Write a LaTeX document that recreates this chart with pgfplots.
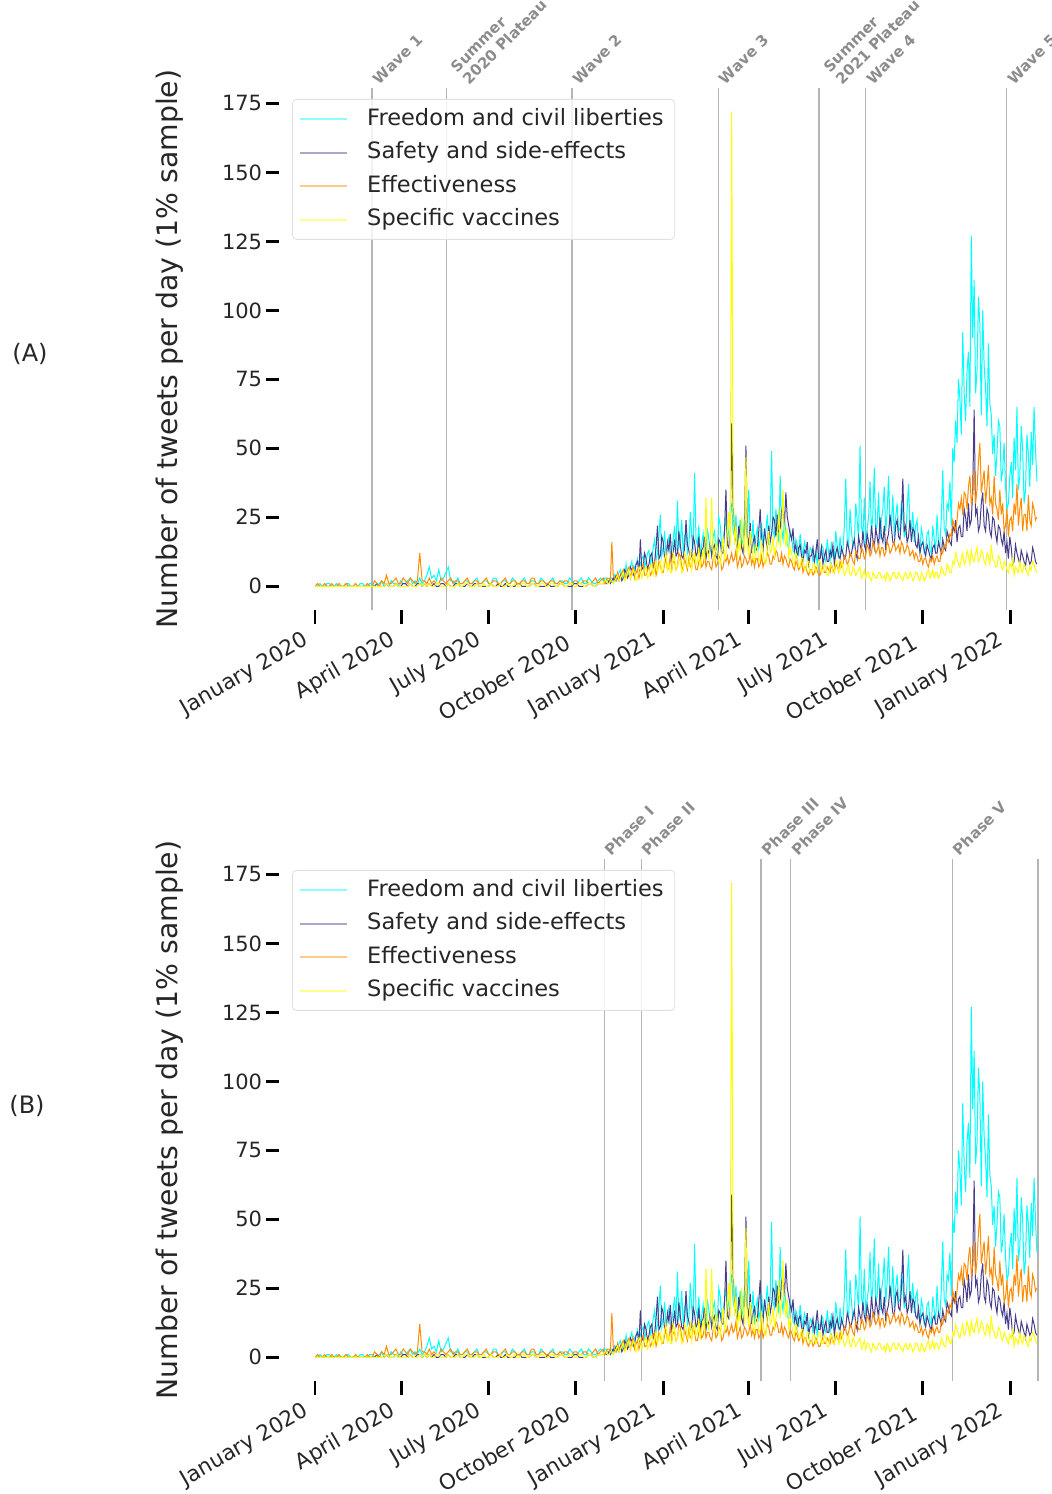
\documentclass[border=0pt]{standalone}
\usepackage{pgfplots}
\pgfplotsset{compat=1.18}
\usepackage{pgfplotstable}
\usepackage{fontspec}
\setmainfont{DejaVu Sans}
\definecolor{cC}{HTML}{00FFFF}
\definecolor{cN}{HTML}{483D8B}
\definecolor{cO}{HTML}{FF8C00}
\definecolor{cY}{HTML}{FFFF00}
\definecolor{evgray}{HTML}{B4B4B4}
\definecolor{evtext}{HTML}{8C8C8C}

\pgfplotstableread{
d C N O Y
0 0 0 0 0
2.5 0 0 1 0
5 1 0 0 0
7.5 0 0 0 0
10 0 0 1 0
12.5 1 0 0 0
15 1 0 0 0
17.5 0 0 1 0
20 0 0 0 0
22.5 1 0 0 0
25 0 0 1 0
27.5 0 0 0 0
30 0 0 0 0
32.5 1 0 1 0
35 1 0 0 0
37.5 0 0 0 0
40 0 0 0 0
42.5 0 0 1 0
45 0 0 0 0
47.5 1 0 0 0
50 1 0 0 0
52.5 0 0 0 0
55 0 0 1 0
57.5 1 0 0 0
60 1 0 0 0
62.5 0 0 2 0
65 0 1 1 0
67.5 1 0 0 0
70 2 0 2 0
72.5 0 0 1 0
75 1 1 4 1
77.5 0 0 1 0
80 2 0 1 0
82.5 1 0 2 0
85 1 1 3 1
87.5 0 0 1 0
90 2 0 1 0
92.5 1 1 3 0
95 1 1 2 0
97.5 2 0 1 0
100 3 1 3 1
102.5 1 0 2 0
105 2 0 1 0
107.5 1 1 2 0
110 3 1 12 1
112.5 1 0 2 0
115 2 1 2 1
117.5 4 0 1 0
120 7 1 3 1
122.5 3 0 1 0
125 4 1 2 0
127.5 2 0 1 1
130 6 0 1 1
132.5 2 1 3 0
135 3 1 2 0
137.5 5 0 1 0
140 7 1 2 1
142.5 2 0 3 0
145 2 0 1 0
147.5 1 1 2 0
150 3 1 2 1
152.5 1 0 1 0
155 1 0 1 0
157.5 2 0 2 1
160 2 1 3 1
162.5 1 0 1 0
165 1 0 1 0
167.5 2 1 2 0
170 3 1 2 1
172.5 1 0 1 0
175 1 0 1 0
177.5 2 0 2 1
180 2 0 3 0
182.5 1 0 1 0
185 1 1 1 1
187.5 3 0 2 0
190 3 0 2 0
192.5 1 1 1 0
195 1 0 1 1
197.5 2 0 2 0
200 2 1 3 0
202.5 1 0 1 1
205 1 0 1 0
207.5 3 0 2 0
210 2 0 2 1
212.5 1 1 1 0
215 1 1 1 0
217.5 2 0 2 1
220 3 0 2 1
222.5 1 0 1 0
225 1 0 1 0
227.5 2 1 3 1
230 2 1 3 1
232.5 1 0 1 0
235 1 0 1 0
237.5 3 0 2 1
240 2 0 2 1
242.5 1 0 1 0
245 1 1 1 0
247.5 2 0 2 1
250 3 0 2 1
252.5 1 0 1 0
255 1 0 1 0
257.5 2 1 2 1
260 2 1 1 1
262.5 1 0 2 0
265 1 0 2 0
267.5 3 0 1 1
270 2 0 1 1
272.5 1 1 2 0
275 1 1 2 0
277.5 2 0 1 1
280 3 0 1 1
282.5 1 0 2 0
285 1 0 2 0
287.5 3 1 1 1
290 2 1 1 1
292.5 1 0 2 0
295 1 0 3 0
297.5 2 1 1 1
300 3 1 2 1
303 2 1 3 1
304.5 3 2 1 2
306 3 1 2 2
307.5 2 1 3 1
309 2 2 3 1
310.5 3 1 2 2
312 3 2 16 2
313.5 2 3 4 1
315 4 2 3 2
316.5 2 4 2 3
318 3 3 5 4
319.5 5 2 3 2
321 6 4 3 3
322.5 3 2 5 4
324 5 3 6 5
325.5 4 6 3 2
327 8 5 4 3
328.5 4 3 6 5
330 6 4 7 6
331.5 7 7 3 3
333 9 6 5 4
334.5 5 4 7 6
336 7 5 3 5
337.5 8 8 5 2
339 10 9 6 3
340.5 6 5 3 7
342 8 17 5 6
343.5 10 6 7 3
345 11 7 8 5
346.5 7 12 4 6
348 9 10 4 7
349.5 12 6 6 3
351 13 8 7 4
352.5 8 11 4 7
354 10 12 5 8
355.5 14 7 8 4
357 17 9 9 6
358.5 9 14 4 9
360 12 22 6 5
361.5 18 10 9 7
363 26 11 8 9
364.5 11 18 5 5
366 14 16 5 6
367.5 20 10 8 10
369 11 9 10 12
370.5 15 16 6 6
372 18 13 7 8
373.5 12 19 11 5
375 13 10 6 5
376.5 17 12 9 12
378 22 17 9 10
379.5 13 11 6 6
381 31 12 7 7
382.5 14 20 12 10
384 16 15 11 9
385.5 24 11 7 5
387 12 10 6 6
388.5 18 14 10 12
390 20 24 8 11
391.5 12 15 6 7
393 14 13 10 8
394.5 27 10 7 13
396 18 11 7 6
397.5 13 18 11 10
399 41 16 9 12
400.5 17 11 6 8
402 15 12 6 9
403.5 22 18 9 14
405 11 9 10 7
406.5 15 13 7 10
408 19 14 8 13
409.5 12 18 11 9
411 13 10 7 32
412.5 21 13 9 12
414 17 12 9 10
415.5 13 16 7 15
417 12 11 6 32
418.5 18 14 10 11
420 20 15 11 9
421.5 13 11 7 16
423 14 10 8 14
424.5 25 17 11 9
426 22 16 10 8
427.5 14 12 6 12
429 16 12 7 18
430.5 21 20 10 10
432 25 35 9 12
433.5 17 15 11 20
435 20 14 8 27
436.5 26 22 10 14
438 30 59 12 172
439.5 20 30 9 40
441 18 20 10 15
442.5 26 17 13 22
444 14 13 7 10
445.5 19 22 9 16
447 24 18 11 13
448.5 15 14 7 25
450 17 12 8 18
451.5 25 20 11 12
453 22 51 10 47
454.5 17 18 8 15
456 35 15 9 11
457.5 19 23 12 20
459 16 12 8 16
460.5 24 16 10 10
462 12 18 7 9
463.5 18 13 10 15
465 21 14 10 14
466.5 14 20 7 9
468 17 28 8 10
469.5 23 16 11 16
471 14 13 7 12
472.5 19 21 9 9
474 20 17 9 8
475.5 26 14 12 15
477 15 22 11 20
478.5 22 16 8 12
480 49 19 8 13
481.5 20 25 11 18
483 18 24 10 11
484.5 28 18 13 14
486 22 26 12 17
487.5 16 20 9 28
489 40 21 9 14
490.5 21 27 12 20
492 17 30 8 35
493.5 24 22 11 18
495 20 34 10 15
496.5 15 25 8 21
498 14 22 7 10
499.5 20 19 10 14
501 18 17 9 12
502.5 13 21 7 9
504 12 13 6 8
505.5 17 15 9 12
507 15 10 8 11
508.5 11 14 6 7
510 19 15 7 7
511.5 14 11 9 10
513 11 9 5 10
514.5 16 13 7 6
516 14 12 7 6
517.5 10 16 5 9
519 9 8 4 9
520.5 14 11 6 5
522 13 11 6 5
523.5 9 14 4 8
525 10 9 5 8
526.5 13 12 7 5
528 8 17 6 6
529.5 12 10 4 9
531 11 10 4 9
532.5 15 14 6 5
534 14 8 7 5
535.5 10 11 5 8
537 9 13 5 7
538.5 17 9 7 4
540 12 9 6 4
541.5 9 13 5 8
543 16 11 8 8
544.5 11 15 6 5
546 10 8 5 5
547.5 20 12 8 9
549 14 14 7 9
550.5 10 11 6 5
552 18 10 9 6
553.5 12 14 7 9
555 13 12 8 7
556.5 22 10 11 4
558 39 11 10 5
559.5 17 16 8 7
561 15 14 9 8
562.5 28 11 12 4
564 20 12 11 4
565.5 14 15 9 7
567 16 17 8 6
568.5 30 12 13 4
570 24 10 12 5
571.5 17 18 10 6
573 51 15 10 7
574.5 22 13 14 3
576 18 20 13 4
577.5 32 15 10 6
579 15 13 11 3
580.5 21 19 15 5
582 25 16 14 5
583.5 38 13 11 3
585 19 22 12 2
586.5 26 17 16 5
588 43 14 15 4
589.5 20 21 12 3
591 22 18 13 3
592.5 34 14 15 5
594 17 25 11 5
595.5 24 18 14 3
597 28 16 14 3
598.5 36 22 11 4
600 20 13 12 2
601.5 27 17 16 5
603 40 19 15 4
604.5 22 26 12 2
606 23 21 13 3
607.5 33 16 15 5
609 18 15 16 5
610.5 25 22 13 3
612 30 24 14 3
613.5 20 18 15 5
615 21 17 12 4
616.5 31 25 16 3
618 26 39 15 2
619.5 18 20 12 4
621 19 22 13 5
622.5 28 16 15 3
624 37 18 14 3
625.5 22 24 11 5
627 21 16 12 4
628.5 27 21 13 2
630 16 20 10 3
631.5 22 15 12 5
633 24 14 11 5
634.5 15 18 9 3
636 13 12 9 2
637.5 21 15 11 5
639 18 16 8 4
640.5 12 13 10 2
642 14 11 10 3
643.5 19 15 8 5
645 20 13 7 6
646.5 13 11 10 3
648 12 10 9 4
649.5 22 14 11 6
651 17 15 8 3
652.5 13 12 10 5
654 26 12 11 5
655.5 16 16 9 3
657 15 14 9 4
658.5 25 12 13 7
660 42 17 12 6
661.5 21 14 15 4
663 19 13 14 4
664.5 30 20 17 8
666 28 18 16 7
667.5 38 16 19 5
669 22 15 18 5
670.5 50 22 24 9
672 45 20 22 8
673.5 60 24 20 12
675 52 16 24 10
676.5 75 21 30 8
678 68 22 28 7
679.5 55 18 32 10
681 92 18 26 12
682.5 70 28 34 8
684 60 25 33 9
685.5 78 20 28 13
687 85 30 36 11
688.5 65 22 40 8
690 127 24 30 13
691.5 90 35 33 10
693 111 64 42 9
694.5 70 26 30 12
696 78 28 35 14
697.5 105 20 45 9
699 95 22 52 10
700.5 62 30 34 13
702 100 34 38 12
703.5 80 22 42 9
705 72 20 30 8
706.5 58 28 36 12
708 88 26 44 11
709.5 66 20 30 8
711 62 18 32 15
712.5 48 25 26 10
714 55 24 40 9
715.5 40 19 30 7
717 48 16 28 7
718.5 60 22 24 11
720 58 21 35 10
721.5 38 17 26 7
723 42 15 30 6
724.5 52 20 20 9
726 36 12 22 8
727.5 28 16 28 6
729 30 10 18 5
730.5 40 18 24 8
732 45 14 25 7
733.5 32 8 20 10
735 54 9 30 4
736.5 42 15 26 7
738 65 12 37 6
739.5 35 10 22 5
741 40 8 28 9
742.5 58 13 32 6
744 50 11 20 5
745.5 30 9 26 8
747 35 7 26 7
748.5 55 12 20 5
750 48 10 33 4
751.5 36 8 24 7
753 56 9 22 6
754.5 44 14 30 9
756 65 12 28 8
757.5 50 9 24 6
759 38 8 25 5
}\tweets

\tikzset{
  ser/.style={line width=0.5pt},
  evline/.style={evgray, line width=0.7pt},
  evlab/.style={anchor=south west, rotate=45, inner sep=0pt, align=left,
    font=\bfseries\fontsize{7.5}{8.5}\selectfont, text=evtext},
  evone/.style={evlab, xshift=3.5pt, yshift=-2pt},
  evtwo/.style={evlab, xshift=9pt, yshift=-7.5pt},
}
\pgfplotsset{
  tweetaxis/.style={
    scale only axis, width=397.5pt, height=261pt,
    xmin=-38, xmax=798, ymin=-8.6, ymax=180.6,
    axis x line*=bottom, axis y line*=left,
    axis line style={draw=none},
    tick align=outside,
    major tick length=6.75pt,
    every tick/.style={black, line width=1.35pt},
    xtick={0,91,182,274,366,456,547,639,731},
    xticklabels={January 2020,April 2020,July 2020,October 2020,January 2021,April 2021,July 2021,October 2021,January 2022},
    xticklabel style={yshift=-12.5pt, rotate=30, anchor=south east, font=\fontsize{10.75}{12}\selectfont, inner sep=1pt, text=black!85},
    ytick={0,25,50,75,100,125,150,175},
    yticklabel style={font=\fontsize{10.5}{12}\selectfont, inner sep=1.5pt, text=black!85},
    /pgf/number format/assume math mode=true,
    clip=false,
    legend cell align=left,
    legend style={at={(axis description cs:0.0164,0.979)}, anchor=north west,
      draw=black!12, rounded corners=2pt, fill=white, fill opacity=0.8,
      text opacity=1, draw opacity=1,
      font=\fontsize{11.25}{13}\selectfont, text=black!85,
      inner xsep=3.5pt, inner ysep=1.5pt,
      nodes={inner xsep=2pt, inner ysep=2.875pt, text height=8.5pt, text depth=2.5pt},
      column sep=7.5pt, row sep=0pt},
    legend image code/.code={\draw[#1, line width=0.9pt, opacity=0.45] (0pt,0pt) -- (23.5pt,0pt);},
  },
}

\begin{document}
\begin{tikzpicture}
% ---------- Panel A ----------
\begin{axis}[tweetaxis, at={(139.5pt,-305pt)}, anchor=south west]
  \draw[evline] (axis cs:60,-8.6) -- (axis cs:60,180.6);
  \draw[evline] (axis cs:138,-8.6) -- (axis cs:138,180.6);
  \draw[evline] (axis cs:270,-8.6) -- (axis cs:270,180.6);
  \draw[evline] (axis cs:424,-8.6) -- (axis cs:424,180.6);
  \draw[evline] (axis cs:530,-8.6) -- (axis cs:530,180.6);
  \draw[evline] (axis cs:579,-8.6) -- (axis cs:579,180.6);
  \draw[evline] (axis cs:727,-8.6) -- (axis cs:727,180.6);
  \addplot[ser, cC] table[x=d, y=C]{\tweets};
  \addlegendentry{Freedom and civil liberties}
  \addplot[ser, cN] table[x=d, y=N]{\tweets};
  \addlegendentry{Safety and side-effects}
  \addplot[ser, cO] table[x=d, y=O]{\tweets};
  \addlegendentry{Effectiveness}
  \addplot[ser, cY] table[x=d, y=Y]{\tweets};
  \addlegendentry{Specific vaccines}
  \node[evone] at (axis cs:60,180.6) {Wave 1};
  \node[evtwo] at (axis cs:138,180.6) {Summer\\2020 Plateau};
  \node[evone] at (axis cs:270,180.6) {Wave 2};
  \node[evone] at (axis cs:424,180.6) {Wave 3};
  \node[evtwo] at (axis cs:530,180.6) {Summer\\2021 Plateau};
  \node[evone] at (axis cs:579,180.6) {Wave 4};
  \node[evone] at (axis cs:727,180.6) {Wave 5};
\end{axis}
% ---------- Panel B ----------
\begin{axis}[tweetaxis, at={(139.5pt,-690.5pt)}, anchor=south west]
  \draw[evline] (axis cs:304,-8.6) -- (axis cs:304,180.6);
  \draw[evline] (axis cs:343,-8.6) -- (axis cs:343,180.6);
  \draw[evline] (axis cs:469,-8.6) -- (axis cs:469,180.6);
  \draw[evline] (axis cs:500,-8.6) -- (axis cs:500,180.6);
  \draw[evline] (axis cs:670,-8.6) -- (axis cs:670,180.6);
  \draw[evline] (axis cs:760,-8.6) -- (axis cs:760,180.6);
  \addplot[ser, cC] table[x=d, y=C]{\tweets};
  \addlegendentry{Freedom and civil liberties}
  \addplot[ser, cN] table[x=d, y=N]{\tweets};
  \addlegendentry{Safety and side-effects}
  \addplot[ser, cO] table[x=d, y=O]{\tweets};
  \addlegendentry{Effectiveness}
  \addplot[ser, cY] table[x=d, y=Y]{\tweets};
  \addlegendentry{Specific vaccines}
  \node[evone] at (axis cs:304,180.6) {Phase I};
  \node[evone] at (axis cs:343,180.6) {Phase II};
  \node[evone] at (axis cs:469,180.6) {Phase III};
  \node[evone] at (axis cs:500,180.6) {Phase IV};
  \node[evone] at (axis cs:670,180.6) {Phase V};
\end{axis}
% ---------- outer labels ----------
\node[font=\fontsize{12}{14}\selectfont, text=black!85] at (15pt,-177pt) {(A)};
\node[font=\fontsize{12}{14}\selectfont, text=black!85] at (13.5pt,-553pt) {(B)};
\node[rotate=90, font=\fontsize{14.15}{17}\selectfont, text=black!85] at (85pt,-174.5pt) {Number of tweets per day (1\% sample)};
\node[rotate=90, font=\fontsize{14.15}{17}\selectfont, text=black!85] at (85pt,-560pt) {Number of tweets per day (1\% sample)};
\pgfresetboundingbox
\useasboundingbox (0pt,0pt) rectangle (525.5pt,-747pt);
\end{tikzpicture}
\end{document}
